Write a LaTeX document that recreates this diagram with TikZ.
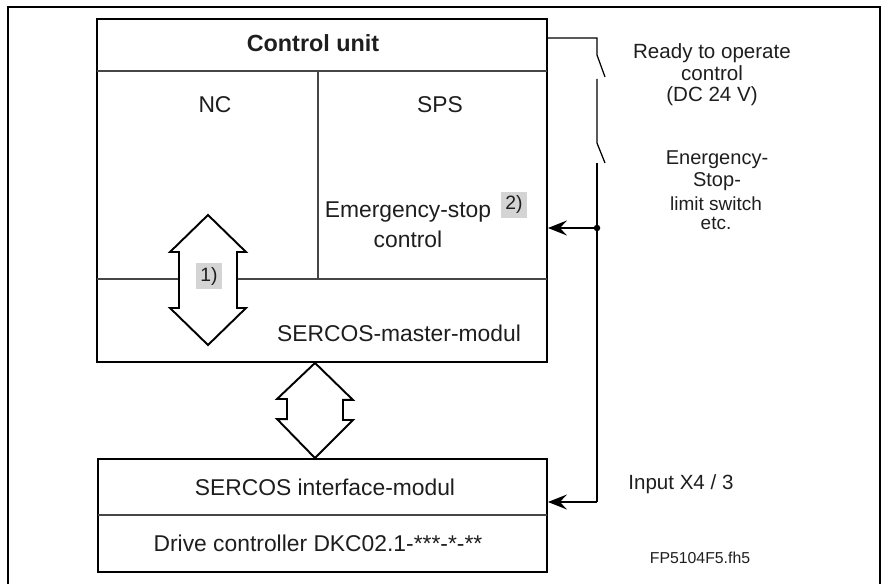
\documentclass[tikz,border=0pt]{standalone}
\usepackage{fontspec}
\setmainfont{Liberation Sans}
\usetikzlibrary{arrows.meta,fit}
\definecolor{LineGrey}{RGB}{70,70,70}
\definecolor{TagGrey}{RGB}{212,212,212}
\definecolor{InkBlack}{RGB}{30,30,30}
\tikzset{
  unitbox/.style={draw=black,line width=1.1pt,inner sep=0pt},
  divider/.style={draw=LineGrey,line width=0.8pt},
  busarrow/.style={draw=black,line width=1.1pt,fill=white,line join=miter},
  wire/.style={draw=black,line width=0.7pt},
  feed/.style={wire,-{Stealth[length=0.38cm,width=0.3cm,inset=0.14cm]}},
  boxtext/.style={text=InkBlack,font=\fontsize{13}{17}\selectfont,inner sep=0pt,align=center},
  sidetext/.style={text=InkBlack,font=\fontsize{11.7}{12.2}\selectfont,inner sep=0pt,align=center},
  notetag/.style={fill=TagGrey,text=InkBlack,font=\fontsize{11}{12}\selectfont,
    inner sep=0pt,minimum width=0.52cm,minimum height=0.53cm}
}

\begin{document}
\begin{tikzpicture}[x=0.02cm,y=-0.02cm]
  \useasboundingbox (0,0) rectangle (883,584);
  % outer frame
  \draw[line width=1.3pt] (8,584) -- (8,7) -- (880,7) -- (880,584);

  % Control unit with NC / SPS / master module
  \node[unitbox,fit={(97,19) (547,362)}] (cu) {};
  \draw[divider] (97,71) -- (547,71);
  \draw[divider] (318,71) -- (318,279);
  \draw[divider] (97,279) -- (547,279);
  \node[boxtext,font=\fontsize{13.3}{16}\selectfont\bfseries] (cutitle) at (313,43) {Control unit};
  \node[boxtext] (nc) at (215,105) {NC};
  \node[boxtext] (sps) at (440,105) {SPS};
  \node[boxtext] (estop) at (408,225) {Emergency-stop\\control};
  \node[notetag] (tag2) at (514,205) {2)};
  \node[boxtext] (master) at (399,333) {SERCOS-master-modul};

  % NC <-> master module
  \draw[busarrow] (208,215) -- (246,252) -- (237,252) -- (237,308) -- (246,308)
    -- (208,345) -- (170,308) -- (179,308) -- (179,252) -- (170,252) -- cycle;
  \node[notetag] (tag1) at (209,276) {1)};

  % Drive: interface module + controller
  \node[unitbox,fit={(98,459) (547,572)}] (ifm) {};
  \draw[divider] (98,515) -- (547,515);
  \node[boxtext] (ifmtext) at (325,487) {SERCOS interface-modul};
  \node[boxtext] (dkc) at (318,543) {Drive controller DKC02.1-***-*-**};

  % control unit <-> interface module
  \coordinate (bus) at (315,0);
  \draw[busarrow] (cu.south -| bus) -- ++(38,37) -- ++(-10,0) -- ++(0,20) -- ++(10,0)
    -- (ifm.north -| bus) -- ++(-38,-39) -- ++(10,0) -- ++(0,-20) -- ++(-10,0) -- cycle;

  % ready-to-operate loop with switches
  \coordinate (sw1) at (597,38);
  \coordinate (tap) at (597,228);
  \coordinate (corner) at (597,502);
  \draw[wire] (cu.east |- sw1) -- (sw1) -- (597,55) -- (605,77);
  \draw[wire] (597,79) -- (597,143) -- (605,163);
  \draw[wire] (597,163) -- (corner);
  \draw[feed] (tap) -- (tap -| cu.east);
  \draw[feed] (corner) -- (corner -| ifm.east);
  \fill (tap) circle[radius=0.065cm];

  % side notes
  \node[sidetext] (ready) at (712,75) {Ready to operate\\control\\(DC 24 V)};
  \node[sidetext,font=\fontsize{11.4}{12.5}\selectfont] (estopsw) at (717,171) {Energency-\\Stop-};
  \node[sidetext,font=\fontsize{10.8}{10.8}\selectfont] (limitsw) at (716,213) {limit switch\\etc.};
  \node[sidetext,anchor=west] (input) at (628,484) {Input X4 / 3};
  \node[sidetext,font=\fontsize{9}{11}\selectfont] (figid) at (700,558) {FP5104F5.fh5};
\end{tikzpicture}
\end{document}
